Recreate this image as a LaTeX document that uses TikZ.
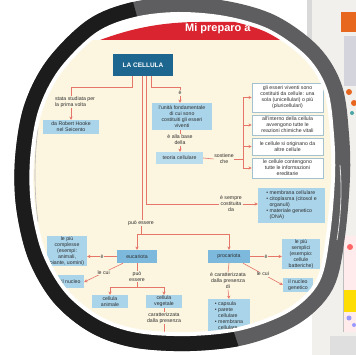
\documentclass[tikz,border=0pt]{standalone}
\usepackage{fontspec}
\setmainfont{Liberation Sans}
\usetikzlibrary{arrows.meta}
\definecolor{cream}{HTML}{FCF5DF}
\definecolor{lblue}{HTML}{A9D4EA}
\definecolor{mblue}{HTML}{7DB9DD}
\definecolor{dteal}{HTML}{1C6690}
\definecolor{lred}{HTML}{E6756A}
\definecolor{txt}{HTML}{2F2F2F}
\definecolor{wborder}{HTML}{A3C1CE}
\definecolor{banred}{HTML}{DA2430}
\definecolor{ringblack}{HTML}{1C1C1C}
\definecolor{ringgray}{HTML}{5E5E60}
\definecolor{pagegray}{HTML}{F1F0EC}
\definecolor{orangebar}{HTML}{E8671F}
\begin{document}
\begin{tikzpicture}[x=1pt,y=-1pt,
  boundary/.style={insert path={plot[smooth cycle, tension=0.55] coordinates {(178,16) (225,20) (268,33) (305,60) (324,92) (330,135) (331,177) (326,235) (316,280) (288,308) (242,326) (190,332) (138,329) (100,316) (68,290) (46,252) (35,205) (34,160) (42,112) (62,72) (98,36) (135,21)}}},
  txtfont/.style={font=\fontsize{5.2}{6}\selectfont},
  lbl/.style={txtfont, text=txt, align=center, inner sep=0.6pt},
  lblf/.style={lbl, fill=cream},
  bbox/.style={txtfont, text=txt, fill=lblue, align=center, inner sep=1pt},
  mbox/.style={bbox, fill=mblue},
  wbox/.style={bbox, fill=white, draw=wborder, line width=0.6pt},
  tbox/.style={fill=dteal, text=white, font=\fontsize{6.5}{7}\selectfont\bfseries},
  conn/.style={draw=lred, line width=0.6pt},
  arr/.style={conn, -{Stealth[length=3.2pt,width=3.2pt]}},
]
\useasboundingbox (0,0) rectangle (356,355);
% background and the neighbouring page
\fill[white] (0,0) rectangle (356,355);
\fill[pagegray] (312,0) rectangle (356,355);
\fill[gray!30] (307,0) rectangle (312,70);
\fill[orangebar] (341,12) rectangle (356,32);
\fill[blue!12!gray!30] (344,36) rectangle (356,86);
\fill[orangebar] (349,92) circle (3);
\fill[orangebar] (354,103) circle (3);
\fill[teal!70] (352,113) circle (2);
\fill[red!8] (343,236) rectangle (356,332);
\draw[gray!50, line width=0.5pt] (343,236) -- (343,332);
\fill[red!60] (350,247) circle (3);
\fill[yellow!80!orange] (344,290) rectangle (356,312);
\fill[blue!40] (349,318) circle (2.5);
\fill[blue!40] (354,325) circle (2);
\fill[gray!25] (330,336) rectangle (356,355);
% magnifier ring
\draw[ringgray, line width=38pt, boundary];
\begin{scope}
  \clip (180,173) -- (127,-20) -- (-20,-20) -- (-20,380) -- (250,380) -- cycle;
  \draw[ringblack, line width=38pt, boundary];
\end{scope}
\draw[white, line width=8pt, boundary];
\draw[white!75!gray, line width=0.8pt] (340,165) .. controls (342,190) and (341,215) .. (337,240);
% content seen through the lens
\begin{scope}
\clip[boundary];
\fill[white] (0,0) rectangle (356,355);
\fill[cream] (0,40) rectangle (356,355);
\fill[banred] (100,40) .. controls (130,29) and (160,22) .. (200,22) -- (340,22) -- (340,40) -- cycle;
\node[anchor=base west, text=white, font=\fontsize{11}{12}\selectfont\bfseries, inner sep=0pt] (title) at (185,32) {Mi preparo a};
\draw[gray!55, line width=0.6pt] (38,128) .. controls (34,160) and (34,190) .. (38,222);

\node[tbox, minimum width=60pt, minimum height=22pt] (cell) at (143,65) {LA CELLULA};
\node[lbl, align=left] (studied) at (75,102) {stata studiata per\\la prima volta};
\node[bbox, minimum width=56pt, minimum height=14pt] (hooke) at (71,127) {da Robert Hooke\\nel Seicento};
\node[lbl] (e1) at (180,93) {è};
\node[bbox, minimum width=60pt, minimum height=27pt] (unita) at (182,116.5) {l'unità fondamentale\\di cui sono\\costituiti gli esseri\\viventi};
\node[lbl] (base) at (180,140) {è alla base\\della};
\node[bbox, fill=lblue!80!white, minimum width=47pt, minimum height=12pt] (teoria) at (179.5,158) {teoria cellulare};
\node[lbl] (sost) at (224,159) {sostiene\\che};
\coordinate (bt) at (243,97.5);
\coordinate (bb) at (243,168);
\node[wbox, minimum width=71pt, minimum height=29pt] (r1) at (287.5,97.5) {gli esseri viventi sono\\costituiti da cellule: una\\sola (unicellulari) o più\\(pluricellulari)};
\node[wbox, minimum width=71pt, minimum height=20pt] (r2) at (287.5,125) {all'interno della cellula\\avvengono tutte le\\reazioni chimiche vitali};
\node[wbox, minimum width=71pt, minimum height=17pt] (r3) at (287.5,146.5) {le cellule si originano da\\altre cellule};
\node[wbox, minimum width=71pt, minimum height=20pt] (r4) at (287.5,168) {le cellule contengono\\tutte le informazioni\\ereditarie};
\node[lbl] (sempre) at (231,204) {è sempre\\costituita\\da};
\node[bbox, align=left, minimum width=67pt, minimum height=35pt] (comp) at (291.5,205.5) {• membrana cellulare\\• citoplasma (citosol e\\\phantom{• }organuli)\\• materiale genetico\\\phantom{• }(DNA)};
\node[lbl] (puo) at (141,223) {può essere};
\node[mbox, minimum width=40pt, minimum height=13pt] (euc) at (137,256.5) {eucariota};
\node[mbox, minimum width=42pt, minimum height=13pt] (pro) at (229,256.5) {procariota};
\node[bbox, minimum width=40pt, minimum height=30pt] (compl) at (67,251) {le più\\complesse\\(esempi:\\animali,\\piante, uomini)};
\node[bbox, minimum width=26pt, minimum height=13pt] (enuc) at (71,282) {il nucleo};
\node[lbl] (puo2) at (137,276.5) {può\\essere};
\node[bbox, minimum width=36pt, minimum height=13pt] (anim) at (110,301.5) {cellula\\animale};
\node[bbox, minimum width=36pt, minimum height=13pt] (veg) at (164,301.5) {cellula\\vegetale};
\node[lbl] (car1) at (164,318) {caratterizzata\\dalla presenza};
\coordinate (vegend) at (164,336);
\node[bbox, minimum width=38pt, minimum height=30pt] (simp) at (301,254) {le più\\semplici\\(esempio:\\cellule\\batteriche)};
\node[bbox, minimum width=30pt, minimum height=14pt] (pnuc) at (298,285) {il nucleo\\genetico};
\node[lbl] (car2) at (228,281) {è caratterizzata\\dalla presenza\\di};
\node[bbox, align=left, minimum width=42pt, minimum height=33pt] (prob) at (229,315.5) {• capsula\\• parete\\\phantom{• }cellulare\\• membrana\\\phantom{• }cellulare};

% connectors
\draw[conn] ([xshift=-11pt]cell.south) -- ++(0,11) -| (hooke.north |- studied.north);
\draw[arr] (hooke.north |- studied.south) -- (hooke.north);
\draw[conn] ([xshift=8pt]cell.south) -- ++(0,11) -| (e1.north);
\draw[arr] (e1.south) -- (e1.south |- unita.north);
\draw[conn] (base.north |- unita.south) -- (base.north);
\draw[arr] (base.south) -- (base.south |- teoria.north);
\draw[conn] (teoria.east) -- (sost.west);
\draw[conn] (sost.east) -- (sost.east -| bt);
\draw[conn] (bt) -- (bb);
\draw[arr] (bt |- r1.west) -- (r1.west);
\draw[arr] (bt |- r2.west) -- (r2.west);
\draw[arr] (bt |- r3.west) -- (r3.west);
\draw[arr] (bt |- r4.west) -- (r4.west);
\draw[conn] ([xshift=3pt]cell.south) |- (sempre.west);
\draw[arr] (sempre.east) -- (sempre.east -| comp.west);
\draw[conn] ([xshift=-1pt]cell.south) -- ([xshift=-1pt]cell.south |- puo.north);
\draw[conn] (puo.south) -- ++(0,8) coordinate (pj);
\draw[conn] (euc.north |- pj) -- (pro.north |- pj);
\draw[arr] (euc.north |- pj) -- (euc.north);
\draw[arr] (pro.north |- pj) -- (pro.north);
\draw[arr] (euc.west) -- node[lblf] (ie) {è} (euc.west -| compl.east);
\draw[arr] ([xshift=-14pt]euc.south) -- node[lblf] (lc1) {le cui} (enuc.east);
\draw[conn] (euc.south) -- (puo2.north);
\draw[conn] (puo2.south) -- ++(0,5) coordinate (pj2);
\draw[conn] (anim.north |- pj2) -- (veg.north |- pj2);
\draw[arr] (anim.north |- pj2) -- (anim.north);
\draw[arr] (veg.north |- pj2) -- (veg.north);
\draw[conn] (veg.south) -- (car1.north);
\draw[arr] (car1.south) -- (vegend);
\draw[arr] (pro.east) -- node[lblf] (ip) {è} (pro.east -| simp.west);
\draw[arr] ([xshift=14pt]pro.south) -- node[lblf] (lc2) {le cui} (pnuc.west);
\draw[conn] (pro.south) -- (car2.north);
\draw[arr] (car2.south) -- (prob.north);
\end{scope}
\end{tikzpicture}
\end{document}
